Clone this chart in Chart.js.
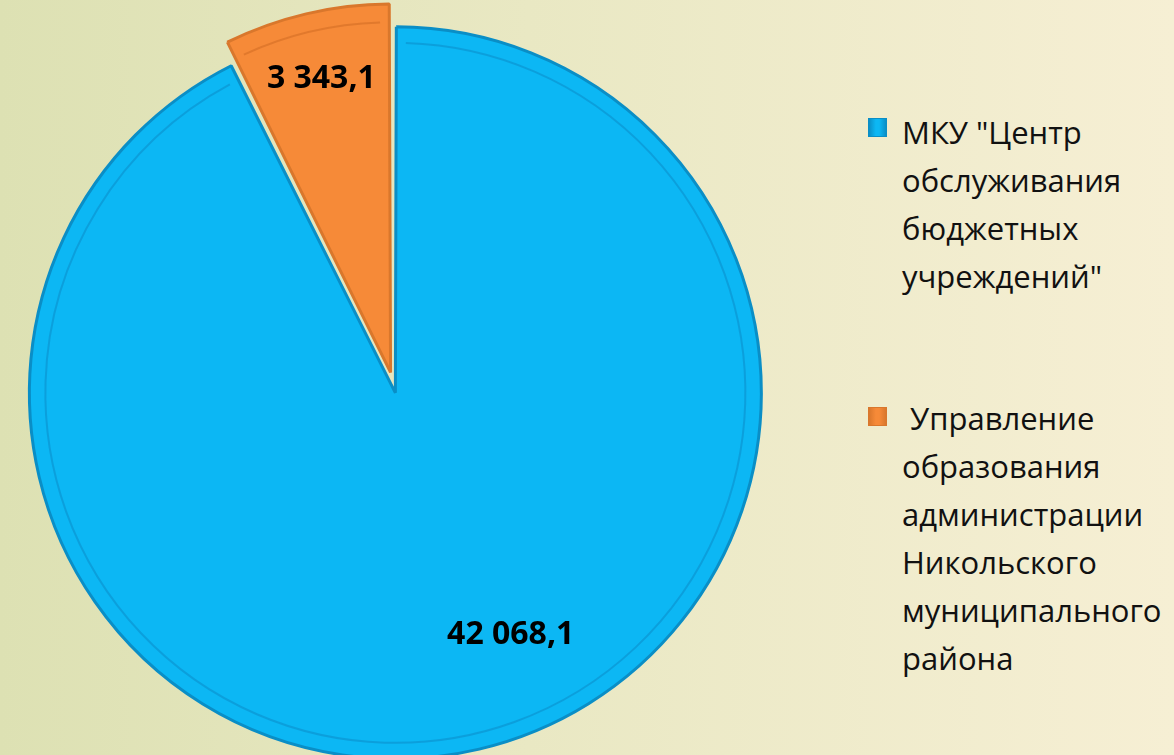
<!DOCTYPE html>
<html lang="ru">
<head>
    <meta charset="UTF-8">
    <title>Расходы по учреждениям</title>
    <script src="https://cdn.jsdelivr.net/npm/chart.js"></script>
    <style>
        html, body {
            margin: 0;
            padding: 0;
            width: 1174px;
            height: 755px;
            overflow: hidden;
        }
        body {
            position: relative;
            background: linear-gradient(90deg, #dde1b3 0%, #e9e8c3 45%, #f6efd4 100%);
            font-family: "Open Sans", "Noto Sans", sans-serif;
        }
        #pieBox {
            position: absolute;
            left: 0;
            top: 0;
            width: 788px;
            height: 774px;
        }
        #legend {
            position: absolute;
            left: 866px;
            top: 108px;
            display: flex;
            flex-direction: column;
            gap: 94px;
        }
        .item {
            position: relative;
            padding-left: 36px;
            font-size: 31px;
            line-height: 48px;
            color: #111;
            white-space: pre-wrap;
        }
        .item .box {
            position: absolute;
            left: 2px;
            width: 19px;
            height: 19px;
            box-sizing: border-box;
        }
    </style>
</head>
<body>

<div id="pieBox"><canvas id="pie"></canvas></div>
<div id="legend"></div>

<script>
    // values
    const categories = [
        'МКУ "Центр\nобслуживания\nбюджетных\nучреждений"',
        ' Управление\nобразования\nадминистрации\nНикольского\nмуниципального\nрайона'
    ];
    const values = [42068.1, 3343.1];
    const colors = ['#0cb7f4', '#f68a38'];
    const borders = ['#0a8ec6', '#d9772c'];
    const rings = ['rgba(10, 130, 190, 0.45)', 'rgba(200, 100, 30, 0.45)'];

    const valueText = values.map(v => v.toLocaleString('ru-RU', {minimumFractionDigits: 1}));

    // inner ring near the rim, like the bevel in the original
    const rimRing = {
        id: 'rimRing',
        afterDatasetsDraw(chart) {
            const ctx = chart.ctx;
            const meta = chart.getDatasetMeta(0);
            ctx.save();
            meta.data.forEach((arc, i) => {
                const p = arc.getProps(['x', 'y', 'startAngle', 'endAngle', 'outerRadius'], true);
                const off = (arc.options.offset || 0) / 4;
                const mid = (p.startAngle + p.endAngle) / 2;
                const cx = p.x + Math.cos(mid) * off;
                const cy = p.y + Math.sin(mid) * off;
                const pad = 0.03;
                ctx.beginPath();
                ctx.arc(cx, cy, p.outerRadius - 10, p.startAngle + pad, p.endAngle - pad);
                ctx.strokeStyle = rings[i];
                ctx.lineWidth = 2;
                ctx.stroke();
            });
            ctx.restore();
        }
    };

    // draw value labels inside slices
    const valueLabels = {
        id: 'valueLabels',
        afterDatasetsDraw(chart, args, opts) {
            const ctx = chart.ctx;
            const meta = chart.getDatasetMeta(0);
            ctx.save();
            ctx.font = opts.font;
            ctx.fillStyle = opts.color;
            ctx.textAlign = 'center';
            ctx.textBaseline = 'middle';
            meta.data.forEach((arc, i) => {
                const p = arc.getProps(['x', 'y', 'startAngle', 'endAngle', 'outerRadius'], true);
                const mid = (p.startAngle + p.endAngle) / 2 + opts.shift[i] * Math.PI / 180;
                const r = p.outerRadius * opts.place[i];
                ctx.fillText(valueText[i], p.x + Math.cos(mid) * r, p.y + Math.sin(mid) * r);
            });
            ctx.restore();
        }
    };

    const ctx = document.getElementById('pie').getContext('2d');
    const pie = new Chart(ctx, {
        type: 'pie',
        data: {
            labels: categories,
            datasets: [{
                data: values,
                backgroundColor: colors,
                borderColor: borders,
                borderWidth: 3,
                offset: [24, 60]
            }]
        },
        options: {
            responsive: true,
            maintainAspectRatio: false,
            animation: false,
            radius: 360,
            rotation: 0,
            plugins: {
                legend: {display: false},
                tooltip: {enabled: false},
                valueLabels: {
                    font: 'bold 32px "Open Sans", "Noto Sans", sans-serif',
                    color: '#000',
                    place: [0.76, 0.88],
                    shift: [-12, 0]
                }
            }
        },
        plugins: [rimRing, valueLabels]
    });

    // legend as html, built from the same arrays
    const legend = document.getElementById('legend');
    const boxTops = [10, 13];
    categories.forEach((name, i) => {
        const item = document.createElement('div');
        item.className = 'item';
        const box = document.createElement('span');
        box.className = 'box';
        box.style.top = boxTops[i] + 'px';
        box.style.background = 'linear-gradient(90deg, ' + borders[i] + ', ' + colors[i] + ' 40%, ' + colors[i] + ' 60%, ' + borders[i] + ')';
        box.style.border = '1px solid ' + borders[i];
        item.appendChild(box);
        item.appendChild(document.createTextNode(name));
        legend.appendChild(item);
    });
</script>

</body>
</html>
